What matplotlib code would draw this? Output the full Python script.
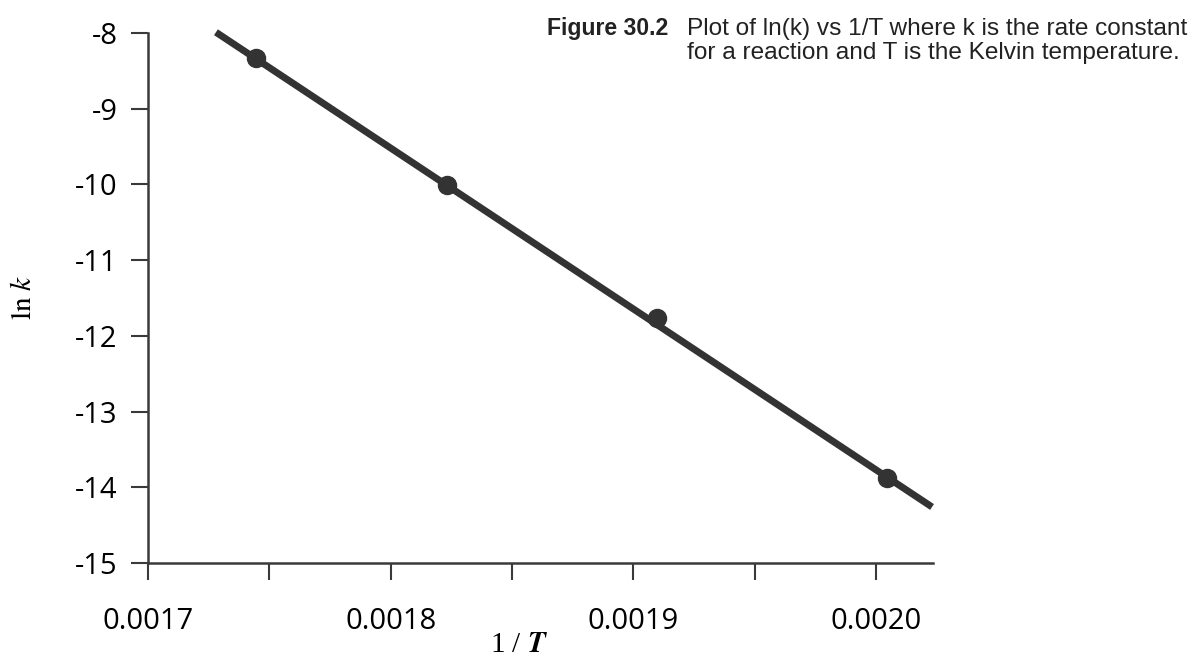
import matplotlib.pyplot as plt

# data
inv_T = [0.0017445, 0.0018232, 0.0019097, 0.0020045]
ln_k = [-8.33, -10.01, -11.77, -13.88]

# best-fit line end points
fit_x = [0.001728, 0.002023]
fit_y = [-7.99, -14.26]

x_ticks = [0.0017, 0.0018, 0.0019, 0.0020]
x_minor = [0.00175, 0.00185, 0.00195]
x_labels = ['0.0017', '0.0018', '0.0019', '0.0020']
y_ticks = [-8, -9, -10, -11, -12, -13, -14, -15]

dark = '#333333'
axis_col = '#3a3a3a'

fig = plt.figure(figsize=(12, 6.58), dpi=100)
ax = fig.add_axes([148/1200, 1 - 563/658, (933 - 148)/1200, (563 - 33)/658])

ax.plot(fit_x, fit_y, color=dark, lw=5, solid_capstyle='butt', clip_on=False, zorder=2)
ax.plot(inv_T, ln_k, 'o', color=dark, ms=13, zorder=3, clip_on=False)

ax.set_xlim(0.0017, 0.0020234)
ax.set_ylim(-15, -8)

ax.set_xticks(x_ticks)
ax.set_xticklabels(x_labels)
ax.set_xticks(x_minor, minor=True)
ax.set_yticks(y_ticks)
ax.set_yticklabels([str(v) for v in y_ticks])

for s in ['top', 'right']:
    ax.spines[s].set_visible(False)
for s in ['left', 'bottom']:
    ax.spines[s].set_linewidth(1.8)
    ax.spines[s].set_color(axis_col)

ax.tick_params(axis='both', which='both', length=12, width=1.5, color=axis_col,
               labelsize=21)
ax.tick_params(axis='y', pad=10)
ax.tick_params(axis='x', pad=20)
for lbl in ax.get_xticklabels() + ax.get_yticklabels():
    lbl.set_family(['Open Sans', 'DejaVu Sans'])

fig.text(23/1200, 1 - 297/658, r'$\ln\,\mathit{k}$', rotation=90, fontsize=21,
         ha='center', va='center', math_fontfamily='stix')
fig.text(519/1200, 1 - 652/658, r'1 / $\boldsymbol{T}$', fontsize=21,
         family=['Liberation Serif', 'DejaVu Serif'], ha='center', va='baseline',
         math_fontfamily='stix')

cap_font = ['Liberation Sans', 'DejaVu Sans']
fig.text(668/1200, 1 - 35/658, 'Figure 30.2', fontsize=16.6, fontweight='bold',
         family=cap_font, ha='right', va='baseline', color='#222222')
fig.text(687/1200, 1 - 35/658, 'Plot of ln(k) vs 1/T where k is the rate constant',
         fontsize=17.6, family=cap_font, ha='left', va='baseline', color='#222222')
fig.text(687/1200, 1 - 59/658, 'for a reaction and T is the Kelvin temperature.',
         fontsize=17.6, family=cap_font, ha='left', va='baseline', color='#222222')

fig.savefig('out.png', dpi=100)
